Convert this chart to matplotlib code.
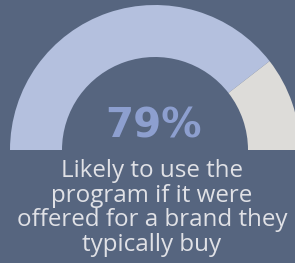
import matplotlib
matplotlib.use('Agg')
import matplotlib.pyplot as plt

# gauge data
labels = ['Likely', 'Not likely']
values = [79, 21]
pct_label = '79%'
caption = 'Likely to use the\nprogram if it were\noffered for a brand they\ntypically buy'

bg = '#56657f'
lav = '#b4c0de'
grey = '#dddcd9'

fig = plt.figure(figsize=(2.95, 2.63), dpi=100, facecolor=bg)
ax = fig.add_axes([0, 0, 1, 1])
ax.set_facecolor(bg)

# half donut: add an invisible half so the drawn part covers 180 degrees
ax.pie(values + [sum(values)], colors=[lav, grey, 'none'],
       startangle=180, counterclock=False,
       center=(155, 113), radius=145,
       wedgeprops=dict(width=52, linewidth=0))

ax.set_xlim(0, 295)
ax.set_ylim(0, 263)
ax.set_aspect('auto')
ax.axis('off')

ax.text(153, 137, pct_label, ha='center', va='center', fontsize=29,
        fontweight='bold', family='DejaVu Sans', color='#8d9fcf')
ax.text(152, 55, caption, ha='center', va='center', fontsize=17.4,
        family='Open Sans', color='#e0e1e6', linespacing=1.05)

fig.savefig('out.png', dpi=100, facecolor=bg)
